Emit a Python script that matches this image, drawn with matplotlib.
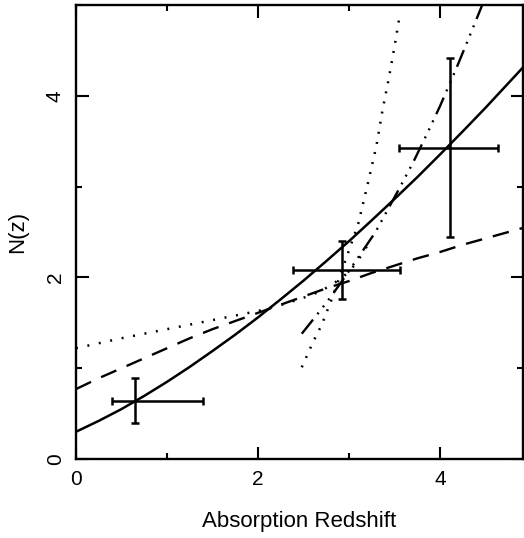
import numpy as np
import matplotlib
matplotlib.use("Agg")
import matplotlib.pyplot as plt
from matplotlib.ticker import MultipleLocator

plt.rcParams["font.family"] = ["Liberation Sans", "DejaVu Sans"]
plt.rcParams["lines.scale_dashes"] = False

# data points with asymmetric error bars
z_pts = [0.65, 2.92, 4.11]
n_pts = [0.64, 2.08, 3.43]
z_lo = [0.40, 2.38, 3.55]
z_hi = [1.40, 3.56, 4.64]
n_lo = [0.40, 1.76, 2.45]
n_hi = [0.89, 2.40, 4.42]

# curves
z_solid = [0.0, 0.25, 0.5, 0.75, 1.0, 1.25, 1.5, 1.75, 2.0, 2.25, 2.5,
           2.75, 3.0, 3.25, 3.5, 3.75, 4.0, 4.25, 4.5, 4.75, 5.0]
n_solid = [0.30, 0.42, 0.55, 0.695, 0.85, 1.015, 1.19, 1.37, 1.56, 1.76, 1.965,
           2.18, 2.40, 2.63, 2.865, 3.105, 3.355, 3.61, 3.87, 4.14, 4.41]

z_dash = [0.0, 0.25, 0.5, 0.75, 1.0, 1.25, 1.5, 1.75, 2.0, 2.25, 2.5,
          2.75, 3.0, 3.25, 3.5, 3.75, 4.0, 4.25, 4.5, 4.75, 5.0]
n_dash = [0.77, 0.89, 1.00, 1.11, 1.22, 1.33, 1.43, 1.52, 1.61, 1.70, 1.79,
          1.88, 1.96, 2.05, 2.13, 2.21, 2.28, 2.36, 2.43, 2.50, 2.57]

z_dot = [0.0, 0.5, 1.0, 1.5, 2.0, 2.3, 2.6, 2.8, 3.0, 3.1, 3.2]
n_dot = [1.22, 1.33, 1.43, 1.53, 1.63, 1.71, 1.81, 1.91, 2.06, 2.19, 2.35]

z_dot2 = [2.48, 2.6, 2.7, 2.82, 2.95, 3.1, 3.2, 3.3, 3.37, 3.43, 3.5, 3.56]
n_dot2 = [1.01, 1.28, 1.48, 1.79, 2.16, 2.59, 3.01, 3.45, 3.86, 4.16, 4.55, 4.91]

z_dd = [2.48, 2.6, 2.75, 2.93, 3.1, 3.29, 3.53, 3.7, 3.86, 4.0, 4.16, 4.3, 4.45, 4.5]
n_dd = [1.38, 1.53, 1.72, 1.97, 2.22, 2.50, 2.94, 3.26, 3.59, 3.89, 4.26, 4.60, 4.97, 5.10]

fig = plt.figure(figsize=(5.24, 5.38), dpi=100)
ax = fig.add_axes([76 / 524, 79 / 538, 447 / 524, 454 / 538])

ax.plot(z_solid, n_solid, color="black", lw=1.8, ls="-")
ax.plot(z_dash, n_dash, color="black", lw=1.7, ls=(0, (12, 8)))
ax.plot(z_dot, n_dot, color="black", lw=1.8, ls=(0, (1.4, 7)))
ax.plot(z_dot2, n_dot2, color="black", lw=1.8, ls=(0, (1.4, 6)))
ax.plot(z_dd, n_dd, color="black", lw=1.7,
        ls=(0, (13, 5, 1.4, 5, 1.4, 5, 1.4, 5)))

xerr = [np.array(z_pts) - np.array(z_lo), np.array(z_hi) - np.array(z_pts)]
yerr = [np.array(n_pts) - np.array(n_lo), np.array(n_hi) - np.array(n_pts)]
ax.errorbar(z_pts, n_pts, xerr=xerr, yerr=yerr, fmt="none", ecolor="black",
            elinewidth=1.8, capsize=3, capthick=1.8)

ax.set_xlim(0, 4.91)
ax.set_ylim(0, 5)
ax.xaxis.set_major_locator(MultipleLocator(2))
ax.xaxis.set_minor_locator(MultipleLocator(1))
ax.yaxis.set_major_locator(MultipleLocator(2))
ax.yaxis.set_minor_locator(MultipleLocator(1))
ax.tick_params(which="both", direction="in", top=True, right=True,
               width=1.5, labelsize=15, pad=8)
ax.tick_params(which="major", length=9)
ax.tick_params(which="minor", length=4.5)
for lab in ax.get_yticklabels():
    lab.set_rotation(90)
    lab.set_va("center")
for s in ax.spines.values():
    s.set_linewidth(1.7)

ax.set_xlabel("Absorption Redshift", fontsize=16, labelpad=16)
ax.set_ylabel("N(z)", fontsize=16, labelpad=13)

fig.savefig("out.png", dpi=100)
